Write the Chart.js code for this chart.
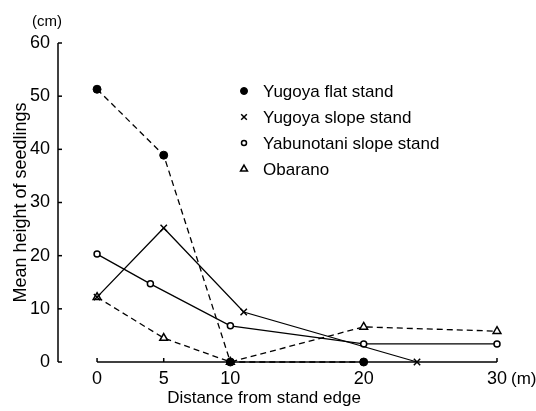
<!DOCTYPE html>
<html>
<head>
<meta charset="utf-8">
<script src="https://cdn.jsdelivr.net/npm/chart.js@4.4.1/dist/chart.umd.min.js"></script>
<style>
html,body{margin:0;padding:0;background:#fff;}
</style>
</head>
<body>
<canvas id="myChart" width="536" height="411"></canvas>
<script>
// tick values
var xTicks=[0,5,10,20,30]
var yTicks=[0,10,20,30,40,50,60]

// series (distance in m, height in cm)
var flatDist=[0,5,10,20]
var flatHeight=[51.3,38.9,0,0]
var slopeDist=[0,5,11,24]
var slopeHeight=[12.2,25.2,9.4,0]
var yabuDist=[0,4,10,20,30]
var yabuHeight=[20.3,14.7,6.8,3.4,3.4]
var obaDist=[0,5,10,20,30]
var obaHeight=[12.2,4.5,0,6.6,5.8]

var names=['Yugoya flat stand','Yugoya slope stand','Yabunotani slope stand','Obarano']

var FONT="'Liberation Sans', Arial, Helvetica, sans-serif"

function pts(xs,ys){
    var out=[]
    for(var i=0;i<xs.length;i++){ out.push({x:xs[i],y:ys[i]}) }
    return out
}

// hand-drawn style axes: separate y axis, x axis starting at 0
const axesPlugin={
    id:'axesPlugin',
    beforeDatasetsDraw(chart){
        const ctx=chart.ctx
        const xs=chart.scales.x, ys=chart.scales.y
        const left=chart.chartArea.left
        ctx.save()
        ctx.strokeStyle='#000'
        ctx.lineWidth=1.5
        ctx.beginPath()
        ctx.moveTo(left,ys.getPixelForValue(0))
        ctx.lineTo(left,ys.getPixelForValue(60))
        ctx.stroke()
        for(var i=0;i<yTicks.length;i++){
            var py=ys.getPixelForValue(yTicks[i])
            ctx.beginPath(); ctx.moveTo(left,py); ctx.lineTo(left+4,py); ctx.stroke()
        }
        var y0=ys.getPixelForValue(0)
        ctx.beginPath()
        ctx.moveTo(xs.getPixelForValue(0),y0)
        ctx.lineTo(xs.getPixelForValue(30),y0)
        ctx.stroke()
        for(var j=0;j<xTicks.length;j++){
            var px=xs.getPixelForValue(xTicks[j])
            ctx.beginPath(); ctx.moveTo(px,y0); ctx.lineTo(px,y0-4); ctx.stroke()
        }
        ctx.restore()
    },
    afterDraw(chart){
        const ctx=chart.ctx
        const xs=chart.scales.x, ys=chart.scales.y
        ctx.save()
        ctx.fillStyle='#000'
        ctx.textBaseline='middle'
        // units
        ctx.font='15px '+FONT
        ctx.textAlign='center'
        ctx.fillText('(cm)',47,22)
        ctx.font='17px '+FONT
        ctx.textAlign='left'
        ctx.fillText('(m)',xs.getPixelForValue(30)+14,ys.getPixelForValue(0)+17)
        // x title
        ctx.font='17px '+FONT
        ctx.textAlign='center'
        ctx.fillText('Distance from stand edge',264,398)
        // legend inside plot
        var lx=244, rows=[91,117,143,169]
        ctx.font='17px '+FONT
        ctx.textAlign='left'
        chart.data.datasets.forEach(function(ds,k){
            ctx.fillStyle=ds.pointBackgroundColor
            ctx.strokeStyle='#000'
            ctx.lineWidth=ds.pointBorderWidth
            Chart.helpers.drawPoint(ctx,{pointStyle:ds.pointStyle,radius:ds.pointRadius-0.5,rotation:0,borderWidth:ds.pointBorderWidth},lx,rows[k])
            ctx.fillStyle='#000'
            ctx.fillText(ds.label,263,rows[k]+1)
        })
        ctx.restore()
    }
}

var ctx=document.getElementById('myChart').getContext('2d')
const chart=new Chart(ctx,{
    type:'line',
    data:{
        datasets:[{
            label:names[0],
            data:pts(flatDist,flatHeight),
            borderColor:'#000',borderWidth:1.3,borderDash:[6,4],
            pointStyle:'circle',pointRadius:4,pointBackgroundColor:'#000',pointBorderColor:'#000',pointBorderWidth:1,
            clip:false
        },{
            label:names[1],
            data:pts(slopeDist,slopeHeight),
            borderColor:'#000',borderWidth:1.3,
            pointStyle:'crossRot',pointRadius:4.5,pointBackgroundColor:'#fff',pointBorderColor:'#000',pointBorderWidth:1.5,
            clip:false
        },{
            label:names[2],
            data:pts(yabuDist,yabuHeight),
            borderColor:'#000',borderWidth:1.3,
            pointStyle:'circle',pointRadius:3,pointBackgroundColor:'#fff',pointBorderColor:'#000',pointBorderWidth:1.5,
            clip:false
        },{
            label:names[3],
            data:pts(obaDist,obaHeight),
            borderColor:'#000',borderWidth:1.3,borderDash:[6,4],
            pointStyle:'triangle',pointRadius:4.5,pointBackgroundColor:'#fff',pointBorderColor:'#000',pointBorderWidth:1.5,
            clip:false
        }]
    },
    options:{
        responsive:false,
        devicePixelRatio:1,
        animation:false,
        layout:{padding:{top:43,right:39,left:0,bottom:0}},
        plugins:{legend:{display:false},tooltip:{enabled:false}},
        scales:{
            x:{
                type:'linear',
                min:-2.93,max:30,
                afterBuildTicks:function(s){ s.ticks=xTicks.map(function(v){return {value:v}}) },
                afterFit:function(s){ s.height=49 },
                grid:{display:false,drawTicks:false},
                border:{display:false},
                ticks:{color:'#000',padding:6,font:{family:FONT,size:18},maxRotation:0}
            },
            y:{
                min:0,max:60,
                afterBuildTicks:function(s){ s.ticks=yTicks.map(function(v){return {value:v}}) },
                afterFit:function(s){ s.width=58 },
                grid:{display:false,drawTicks:false},
                border:{display:false},
                ticks:{color:'#000',padding:8,font:{family:FONT,size:18}},
                title:{display:true,text:'Mean height of seedlings',color:'#000',font:{family:FONT,size:18},padding:{top:10,bottom:0}}
            }
        }
    },
    plugins:[axesPlugin]
})
</script>
</body>
</html>
